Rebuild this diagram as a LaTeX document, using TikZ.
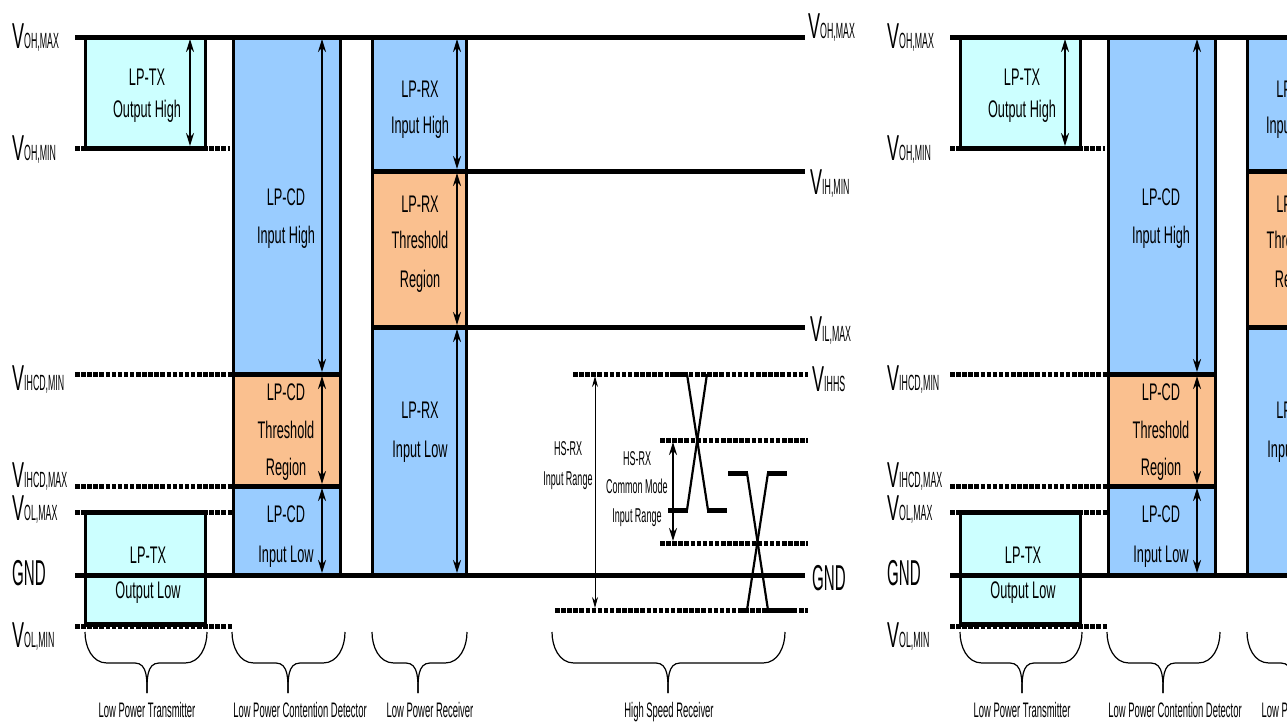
\documentclass[tikz,border=0pt]{standalone}
\usepackage{fontspec}
\setmainfont{Liberation Sans}
\newfontfamily\cbox[FakeStretch=0.53]{Liberation Sans}
\newfontfamily\cbig[FakeStretch=0.5]{Liberation Sans}
\newfontfamily\csub[FakeStretch=0.4]{Liberation Sans}
\newfontfamily\cgnd[FakeStretch=0.42]{Liberation Sans}
\newfontfamily\csmall[FakeStretch=0.45]{Liberation Sans}
\usetikzlibrary{arrows.meta}
\definecolor{txcyan}{RGB}{204,255,255}
\definecolor{cdblue}{RGB}{153,204,255}
\definecolor{thorange}{RGB}{250,192,143}
\newcommand\vlab[1]{{\fontsize{36}{36}\selectfont\cbig V}{\fontsize{22}{22}\selectfont\csub #1}}
\newcommand\gndlab{{\fontsize{36}{36}\selectfont\cgnd GND}}
\tikzset{
  thickline/.style={line width=5pt},
  border/.style={line width=3pt},
  dotline/.style={line width=5pt, dash pattern=on 4.5pt off 1.6pt},
  darrow/.style={line width=2pt, {Stealth[length=13pt,width=8pt]}-{Stealth[length=13pt,width=8pt]}},
  thinarrow/.style={line width=1pt, {Stealth[length=11pt,width=6pt]}-{Stealth[length=11pt,width=6pt]}},
  bracepath/.style={line width=1.2pt},
  diag/.style={line width=2.2pt},
  level/.style={line width=5pt},
  boxtxt/.style={inner sep=0pt, anchor=base, font=\fontsize{24}{24}\selectfont\cbox},
  smalltxt/.style={inner sep=0pt, anchor=base, font=\fontsize{20}{20}\selectfont\csmall},
  bracetxt/.style={inner sep=0pt, anchor=base, font=\fontsize{21}{21}\selectfont\csmall},
  leftlab/.style={inner sep=0pt, anchor=base west},
}
\begin{document}
\begin{tikzpicture}[x=1pt,y=-1pt]
\useasboundingbox (0,0) rectangle (1287,724);
\fill[white] (0,0) rectangle (1287,724);
\clip (0,0) rectangle (1287,724);
\foreach \dx/\p in {0/L,875/R}{
\begin{scope}[xshift=\dx pt]
  % fills
  \fill[txcyan] (85,37) rectangle (205,148);
  \fill[txcyan] (85,512) rectangle (205,624);
  \fill[cdblue] (233,37) rectangle (340,374);
  \fill[thorange] (233,374) rectangle (340,486);
  \fill[cdblue] (233,486) rectangle (340,575);
  \fill[cdblue] (372,37) rectangle (466,171);
  \fill[thorange] (372,171) rectangle (466,327);
  \fill[cdblue] (372,327) rectangle (466,575);
  % dotted levels
  \draw[dotline] (75,148) -- (230,148);
  \draw[dotline] (75,374) -- (233,374);
  \draw[dotline] (75,486) -- (233,486);
  \draw[dotline] (75,512) -- (233,512);
  \draw[dotline] (75,626) -- (233,626);
  \draw[dotline] (573,374) -- (808,374);
  \draw[dotline] (660,440) -- (808,440);
  \draw[dotline] (660,543) -- (808,543);
  \draw[dotline] (555,610) -- (808,610);
  % borders
  \draw[border] (85,37) -- (85,148);
  \draw[border] (205,37) -- (205,148);
  \draw[border] (85,512) rectangle (205,624);
  \draw[border] (233,37) -- (233,575);
  \draw[border] (340,37) -- (340,575);
  \draw[border] (372,37) -- (372,575);
  \draw[border] (466,37) -- (466,575);
  % solid levels
  \draw[thickline] (75,37) -- (805,37);
  \draw[thickline] (85,148) -- (205,148);
  \draw[thickline] (85,512) -- (205,512);
  \draw[thickline] (85,624) -- (205,624);
  \draw[thickline] (233,374) -- (340,374);
  \draw[thickline] (233,486) -- (340,486);
  \draw[thickline] (372,171) -- (805,171);
  \draw[thickline] (372,327) -- (805,327);
  \draw[thickline] (75,575) -- (805,575);
  % range arrows
  \draw[darrow] (190,39) -- (190,146);
  \draw[darrow] (322,39) -- (322,372);
  \draw[darrow] (322,376) -- (322,484);
  \draw[darrow] (322,488) -- (322,573);
  \draw[darrow] (457,39) -- (457,169);
  \draw[darrow] (457,173) -- (457,325);
  \draw[darrow] (457,329) -- (457,573);
  \draw[thinarrow] (595,376) -- (595,608);
  \draw[darrow] (673,442) -- (673,541);
  % HS waveforms
  \draw[level] (670,374) -- (688,374);
  \draw[diag] (687,374) -- (708,510);
  \draw[level] (707,510) -- (727,510);
  \draw[level] (668,510) -- (688,510);
  \draw[diag] (687,510) -- (707,374);
  \draw[level] (728,473) -- (748,473);
  \draw[diag] (747,473) -- (768,610);
  \draw[level] (767,610) -- (797,610);
  \draw[level] (740,610) -- (748,610);
  \draw[diag] (747,610) -- (768,473);
  \draw[level] (767,473) -- (787,473);
  % braces
  \foreach \l/\r/\t in {85/207/147, 232/345/288, 372/467/418, 552/785/668}{
    \draw[bracepath] (\l,632) to[out=-90,in=180] (\l+22,663) -- (\t-12,663) to[out=0,in=90] (\t,693);
    \draw[bracepath] (\r,632) to[out=-90,in=0] (\r-22,663) -- (\t+12,663) to[out=180,in=90] (\t,693);
  }
  % left labels
  \node[leftlab] (\p-vohmax) at (12,48) {\vlab{OH,MAX}};
  \node[leftlab] (\p-vohmin) at (12,160) {\vlab{OH,MIN}};
  \node[leftlab] (\p-vihcdmin) at (12,390) {\vlab{IHCD,MIN}};
  \node[leftlab] (\p-vihcdmax) at (12,487) {\vlab{IHCD,MAX}};
  \node[leftlab] (\p-volmax) at (12,520) {\vlab{OL,MAX}};
  \node[leftlab] (\p-gnd) at (12,585) {\gndlab};
  \node[leftlab] (\p-volmin) at (12,647) {\vlab{OL,MIN}};
  % right labels
  \node[leftlab] (\p-rvohmax) at (808,38) {\vlab{OH,MAX}};
  \node[leftlab] (\p-rvihmin) at (810,194) {\vlab{IH,MIN}};
  \node[leftlab] (\p-rvilmax) at (810,341) {\vlab{IL,MAX}};
  \node[leftlab] (\p-rvihhs) at (812,391) {\vlab{IHHS}};
  \node[leftlab] (\p-rgnd) at (812,590) {\gndlab};
  % box texts
  \node[boxtxt] (\p-t1a) at (147,85) {LP-TX};
  \node[boxtxt] (\p-t1b) at (147,117) {Output High};
  \node[boxtxt] (\p-t2a) at (286,205) {LP-CD};
  \node[boxtxt] (\p-t2b) at (286,243) {Input High};
  \node[boxtxt] (\p-t3a) at (420,97) {LP-RX};
  \node[boxtxt] (\p-t3b) at (420,133) {Input High};
  \node[boxtxt] (\p-t4a) at (420,212) {LP-RX};
  \node[boxtxt] (\p-t4b) at (420,248) {Threshold};
  \node[boxtxt] (\p-t4c) at (420,287) {Region};
  \node[boxtxt] (\p-t5a) at (286,400) {LP-CD};
  \node[boxtxt] (\p-t5b) at (286,438) {Threshold};
  \node[boxtxt] (\p-t5c) at (286,475) {Region};
  \node[boxtxt] (\p-t6a) at (286,522) {LP-CD};
  \node[boxtxt] (\p-t6b) at (286,562) {Input Low};
  \node[boxtxt] (\p-t7a) at (148,563) {LP-TX};
  \node[boxtxt] (\p-t7b) at (148,598) {Output Low};
  \node[boxtxt] (\p-t8a) at (420,418) {LP-RX};
  \node[boxtxt] (\p-t8b) at (420,457) {Input Low};
  \node[smalltxt] (\p-h1a) at (568,455) {HS-RX};
  \node[smalltxt] (\p-h1b) at (568,485) {Input Range};
  \node[smalltxt] (\p-h2a) at (637,465) {HS-RX};
  \node[smalltxt] (\p-h2b) at (637,493) {Common Mode};
  \node[smalltxt] (\p-h2c) at (637,522) {Input Range};
  % brace labels
  \node[bracetxt] (\p-b1) at (147,717) {Low Power Transmitter};
  \node[bracetxt] (\p-b2) at (300,717) {Low Power Contention Detector};
  \node[bracetxt] (\p-b3) at (430,717) {Low Power Receiver};
  \node[bracetxt] (\p-b4) at (669,717) {High Speed Receiver};
\end{scope}
}
\end{tikzpicture}
\end{document}
